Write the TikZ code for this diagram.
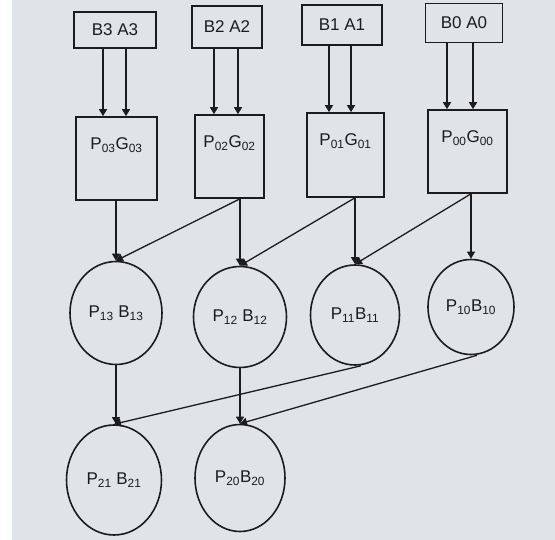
\documentclass[tikz,border=0pt]{standalone}
\usepackage{fontspec}
\setmainfont{Liberation Sans}
\usetikzlibrary{arrows.meta,shapes.geometric}
\definecolor{paper}{RGB}{224,227,232}
\definecolor{ink}{RGB}{28,28,30}
\newcommand{\sbs}[1]{\textsubscript{#1}}
\begin{document}
\begin{tikzpicture}[x=1pt,y=-1pt,
  font=\fontsize{17}{19}\selectfont,
  every node/.style={text=ink},
  inbox/.style 2 args={draw=ink, line width=1.6pt, rectangle, inner sep=0pt,
    minimum width=#1, minimum height=#2},
  gbox/.style n args={3}{draw=ink, line width=1.6pt, rectangle, inner sep=0pt,
    minimum width=#1, minimum height=#2,
    label={[anchor=north, yshift=-18pt, text=ink]north:#3}},
  cell/.style 2 args={draw=ink, line width=1.6pt, ellipse, inner sep=0pt,
    minimum width=#1, minimum height=#2},
  arr/.style={draw=ink, line width=1.3pt, -{Triangle[length=7pt,width=8pt]}}]

% paper
\fill[paper] (0,0) rectangle (555,540);
\fill[white] (0,0) rectangle (12,540);

% inputs
\node[inbox={82pt}{36pt}] (b3) at (115,30) {B3 A3};
\node[inbox={70pt}{42pt}] (b2) at (227,27) {B2 A2};
\node[inbox={80pt}{40pt}] (b1) at (342,25) {B1 A1};
\node[inbox={77pt}{39pt}] (b0) at (464,23) {B0 A0};

% level 0: propagate / generate
\node[gbox={81pt}{83pt}{P\sbs{03}G\sbs{03}}] (p03) at (116.5,158.5) {};
\node[gbox={69pt}{83pt}{P\sbs{02}G\sbs{02}}] (p02) at (229.5,156.5) {};
\node[gbox={77pt}{84pt}{P\sbs{01}G\sbs{01}}] (p01) at (345.5,155) {};
\node[gbox={79pt}{83pt}{P\sbs{00}G\sbs{00}}] (p00) at (467.5,151.5) {};

% level 1
\node[cell={92pt}{103pt}] (p13) at (116,313) {P\sbs{13} B\sbs{13}};
\node[cell={93pt}{101pt}] (p12) at (240,317) {P\sbs{12} B\sbs{12}};
\node[cell={89pt}{100pt}] (p11) at (355,315) {P\sbs{11}B\sbs{11}};
\node[cell={86pt}{95pt}] (p10) at (471,307) {P\sbs{10}B\sbs{10}};

% level 2
\node[cell={95pt}{110pt}] (p21) at (114,480) {P\sbs{21} B\sbs{21}};
\node[cell={90pt}{107pt}] (p20) at (240,478) {P\sbs{20}B\sbs{20}};

% inputs to level 0
\foreach \s/\t/\l/\r in {b3/p03/-12/11, b2/p02/-13/11, b1/p01/-13/9, b0/p00/-17/9}{
  \draw[arr] ([xshift=\l pt]\s.south) -- ([xshift=\l pt]\s.south |- \t.north);
  \draw[arr] ([xshift=\r pt]\s.south) -- ([xshift=\r pt]\s.south |- \t.north);
}

% level 0 to level 1
\coordinate (o3) at (p03.south -| p13.north);
\coordinate (o2) at (p02.south -| p12.north);
\coordinate (o1) at (p01.south -| p11.north);
\coordinate (o0) at (p00.south -| p10.north);
\draw[arr] (o3) -- (p13.north);
\draw[arr] (o2) -- (p12.north);
\draw[arr] (o1) -- (p11.north);
\draw[arr] (o0) -- (p10.north);
\draw[arr] (o2) -- (p13.north);
\draw[arr] (o1) -- (p12.north);
\draw[arr] (o0) -- (p11.north);

% level 1 to level 2
\draw[arr] (p13.south) -- (p13.south |- p21.north);
\draw[arr] (p12.south) -- (p20.north);
\draw[arr] ([xshift=6pt]p11.south) -- (p21.north);
\draw[arr] ([xshift=6pt]p10.south) -- (p20.north);
\end{tikzpicture}
\end{document}
